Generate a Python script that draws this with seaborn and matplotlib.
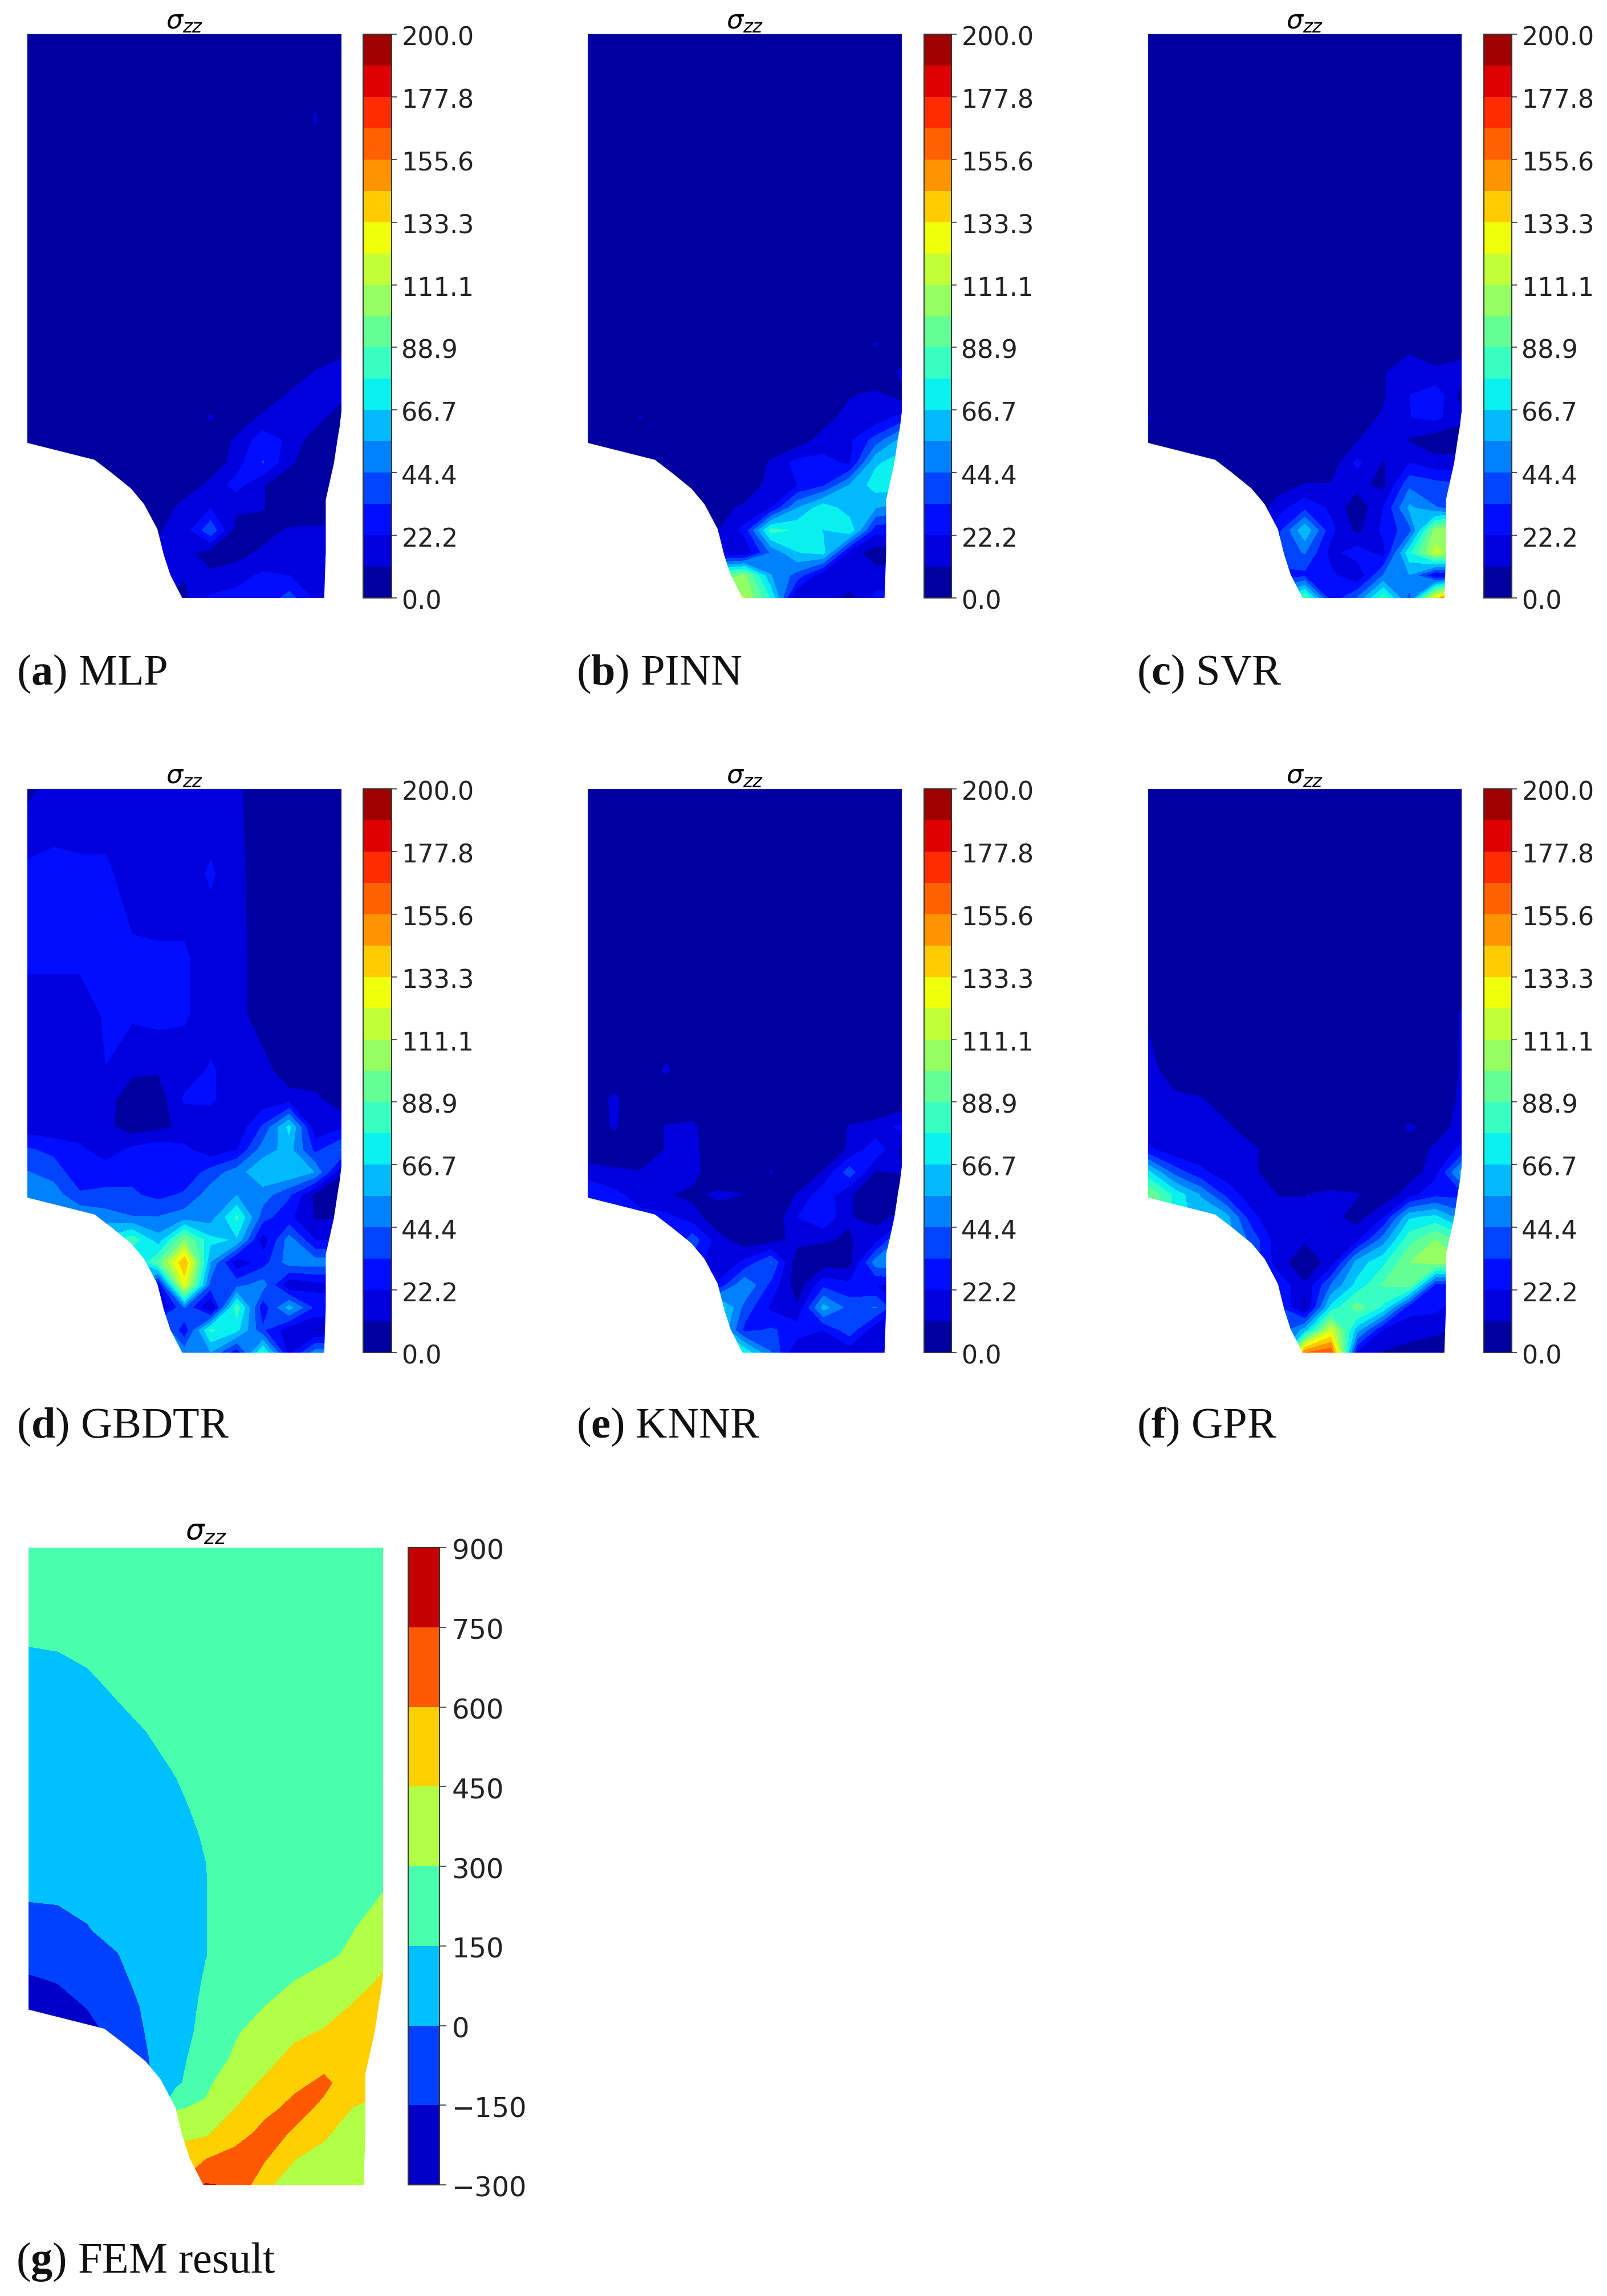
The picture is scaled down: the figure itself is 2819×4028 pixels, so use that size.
import numpy as np
import seaborn as sns
import matplotlib.pyplot as plt
from matplotlib.patches import Polygon
from matplotlib.transforms import ScaledTranslation

# grid rows run top to bottom, fractions of the specimen height
row_heights = [1, .85, .7, .6, .5, .45, .40, .36, .32, .28, .24, .20, .16, .12, .08, .04, 0]
fem_row_heights = [1, .85, .78, .7, .65, .6, .55, .5, .45, .40, .36, .32, .28, .24, .20, .16, .12, .08, .04, 0]

# specimen outline, fractions of width and height
shape_x = [0, 1, 1, .994, .989, .976, .95, .95, .945, .493, .455, .434, .414, .372, .33, .268, .214, 0]
shape_y = [1, 1, .331, .303, .287, .239, .174, .081, 0, 0, .041, .077, .122, .166, .194, .222, .245, .275]

pred_ticks = [0.0, 22.2, 44.4, 66.7, 88.9, 111.1, 133.3, 155.6, 177.8, 200.0]
fem_ticks = [-300, -150, 0, 150, 300, 450, 600, 750, 900]

mlp = [
    [0] * 13,
    [0, 0, 0, 0, 0, 0, 0, 0, 0, 0, 0, 12, 0],
    [0] * 13,
    [0] * 13,
    [0] * 13,
    [0] * 13,
    [0, 0, 0, 0, 0, 0, 0, 0, 0, 0, 0, 12, 22],
    [0, 0, 0, 0, 0, 0, 0, 0, 0, 0, 13, 18, 16],
    [0, 0, 0, 0, 0, 0, 0, 13, 0, 14, 16, 18, 0],
    [0, 0, 0, 0, 0, 0, 0, 0, 14, 28, 20, 4, 0],
    [0, 0, 0, 0, 0, 0, 0, 0, 18, 34, 14, 0, 0],
    [0, 0, 0, 0, 0, 0, 0, 16, 26, 12, 0, 0, 0],
    [0, 0, 0, 0, 0, 0, 18, 22, 14, 12, 0, 0, 0],
    [0, 0, 0, 0, 0, 10, 16, 42, 5, 5, 13, 14, 14],
    [0, 0, 0, 0, 0, 14, 14, 6, 6, 14, 14, 15, 15],
    [0, 0, 0, 0, 0, 14, 12, 13, 18, 24, 22, 18, 18],
    [0, 0, 0, 0, 0, 12, 8, 24, 26, 24, 38, 20, 20],
]

pinn = [
    [0] * 13,
    [0] * 13,
    [0] * 13,
    [0] * 13,
    [0] * 13,
    [0, 0, 0, 0, 0, 0, 0, 0, 0, 0, 6, 12, 0],
    [0, 0, 0, 0, 0, 0, 0, 0, 0, 0, 0, 0, 14],
    [0, 0, 0, 0, 0, 0, 0, 0, 0, 0, 10, 14, 6],
    [0, 0, 12, 0, 0, 0, 0, 0, 0, 6, 16, 15, 26],
    [0, 0, 0, 0, 0, 0, 0, 0, 4, 16, 20, 38, 60],
    [0, 0, 0, 0, 0, 0, 0, 13, 26, 26, 20, 65, 72],
    [0, 0, 0, 0, 0, 0, 4, 15, 22, 32, 56, 72, 72],
    [0, 0, 0, 0, 0, 8, 13, 22, 55, 74, 60, 56, 50],
    [0, 0, 0, 0, 0, 11, 26, 82, 76, 66, 76, 26, 26],
    [0, 0, 0, 0, 0, 12, 13, 46, 66, 70, 16, 5, 6],
    [0, 0, 0, 0, 90, 92, 102, 56, 40, 13, 22, 16, 16],
    [0, 0, 0, 0, 110, 110, 112, 76, 8, 20, 6, 25, 25],
]

svr = [
    [0] * 13,
    [0] * 13,
    [0] * 13,
    [0] * 13,
    [0] * 13,
    [0, 0, 0, 0, 0, 0, 0, 0, 0, 0, 6, 8, 0],
    [0, 0, 0, 0, 0, 0, 0, 0, 0, 10, 20, 12, 20],
    [0, 0, 0, 0, 0, 0, 0, 0, 5, 10, 22, 30, 6],
    [13, 0, 0, 0, 0, 0, 0, 0, 8, 12, 22, 25, 14],
    [0, 0, 0, 0, 0, 0, 0, 0, 10, 22, 10, 4, 4],
    [0, 0, 0, 0, 0, 0, 0, 4, 25, 10, 22, 15, 15],
    [0, 0, 0, 0, 0, 5, 12, 12, 14, 8, 42, 38, 35],
    [0, 0, 0, 0, 0, 18, 30, 20, 3, 22, 58, 45, 40],
    [0, 0, 0, 0, 0, 30, 65, 25, 8, 25, 40, 105, 115],
    [0, 0, 0, 0, 0, 40, 45, 18, 28, 18, 75, 115, 100],
    [0, 0, 0, 0, 0, 30, 30, 25, 12, 45, 55, 20, 25],
    [0, 0, 0, 0, 0, 60, 90, 25, 45, 85, 40, 130, 200],
]

gbdtr = [
    [8, 16, 13, 13, 13, 14, 13, 13, 13, 5, 3, 3, 3],
    [25, 25, 25, 25, 15, 15, 15, 24, 14, 5, 3, 3, 3],
    [25, 25, 25, 25, 25, 24, 24, 15, 15, 5, 3, 3, 3],
    [15, 15, 15, 24, 24, 26, 24, 15, 15, 5, 3, 3, 3],
    [14, 15, 15, 22, 13, 12, 15, 24, 15, 15, 5, 3, 3],
    [15, 15, 15, 15, 5, 5, 24, 24, 15, 15, 15, 14, 3],
    [16, 15, 14, 14, 5, 8, 14, 15, 14, 35, 70, 14, 20],
    [35, 30, 25, 15, 25, 30, 25, 15, 22, 50, 60, 30, 45],
    [45, 40, 25, 30, 30, 22, 25, 38, 50, 65, 65, 55, 12],
    [55, 50, 35, 35, 35, 30, 35, 50, 55, 50, 35, 8, 5],
    [60, 60, 55, 50, 45, 45, 50, 50, 80, 38, 25, 10, 10],
    [60, 60, 60, 70, 85, 60, 100, 70, 65, 15, 50, 22, 22],
    [60, 60, 60, 60, 60, 90, 145, 55, 14, 28, 50, 50, 50],
    [60, 60, 60, 60, 60, 20, 125, 40, 40, 50, 12, 18, 18],
    [60, 60, 60, 60, 60, 5, 45, 8, 85, 25, 60, 30, 30],
    [60, 60, 60, 60, 60, 60, 25, 80, 70, 35, 15, 10, 10],
    [60, 60, 60, 60, 60, 60, 50, 55, 25, 80, 18, 50, 50],
]

knnr = [
    [0] * 13,
    [0] * 13,
    [0] * 13,
    [0] * 13,
    [0, 0, 0, 13, 0, 0, 0, 0, 0, 0, 0, 0, 0],
    [0, 14, 0, 0, 0, 0, 0, 0, 0, 0, 0, 0, 0],
    [0, 13, 0, 12, 14, 0, 0, 0, 0, 0, 12, 15, 25],
    [0, 0, 0, 12, 15, 0, 0, 0, 0, 0, 13, 30, 8],
    [18, 14, 12, 12, 16, 0, 0, 12, 0, 12, 40, 10, 12],
    [30, 25, 18, 12, 8, 14, 11, 0, 12, 30, 12, 4, 4],
    [30, 25, 25, 25, 16, 3, 0, 0, 22, 32, 12, 6, 15],
    [30, 25, 25, 15, 40, 15, 4, 6, 15, 12, 10, 18, 50],
    [30, 25, 25, 15, 30, 12, 25, 45, 3, 5, 6, 50, 55],
    [30, 25, 25, 15, 30, 25, 55, 30, 4, 30, 25, 22, 22],
    [30, 25, 25, 15, 30, 75, 40, 20, 12, 60, 40, 45, 22],
    [30, 25, 25, 15, 30, 70, 30, 35, 28, 22, 40, 14, 12],
    [30, 25, 25, 15, 30, 70, 75, 45, 12, 22, 15, 22, 12],
]

gpr = [
    [0] * 13,
    [0] * 13,
    [0] * 13,
    [9, 0, 0, 0, 0, 0, 0, 0, 0, 0, 0, 2, 12],
    [16, 4, 0, 0, 0, 0, 0, 0, 0, 0, 0, 5, 12],
    [14, 14, 12, 5, 0, 0, 0, 0, 0, 0, 0, 4, 13],
    [15, 15, 14, 13, 5, 0, 0, 0, 0, 0, 13, 6, 15],
    [25, 15, 15, 14, 13, 5, 0, 0, 0, 0, 5, 13, 25],
    [70, 40, 25, 16, 13, 4, 0, 4, 0, 0, 4, 18, 60],
    [100, 75, 55, 30, 15, 11, 11, 13, 12, 2, 18, 30, 30],
    [100, 75, 60, 60, 25, 13, 12, 15, 6, 22, 65, 70, 50],
    [100, 75, 60, 60, 40, 14, 12, 16, 20, 50, 85, 100, 85],
    [100, 75, 60, 60, 40, 15, 4, 15, 60, 75, 100, 105, 100],
    [100, 75, 60, 60, 40, 30, 12, 45, 70, 90, 95, 30, 30],
    [100, 75, 60, 60, 40, 35, 8, 70, 95, 75, 25, 25, 15],
    [100, 75, 60, 60, 40, 35, 60, 120, 60, 20, 18, 14, 8],
    [100, 75, 60, 60, 40, 35, 155, 165, 20, 10, 5, 3, 3],
]

fem = [
    [220] * 13,
    [152, 155, 165, 185, 205, 225, 225, 225, 225, 225, 225, 225, 225],
    [125, 128, 138, 157, 175, 203, 225, 225, 225, 225, 225, 225, 225],
    [110, 110, 110, 128, 146, 173, 205, 230, 235, 235, 225, 225, 225],
    [95, 95, 95, 115, 125, 154, 190, 222, 228, 228, 225, 225, 228],
    [80, 80, 80, 85, 105, 135, 175, 215, 225, 225, 225, 225, 235],
    [55, 55, 60, 70, 85, 115, 160, 210, 225, 230, 232, 235, 255],
    [30, 30, 40, 50, 75, 100, 148, 205, 230, 240, 240, 245, 280],
    [5, 8, 20, 45, 70, 85, 147, 205, 235, 245, 255, 270, 305],
    [-40, -30, -5, 30, 65, 75, 147, 210, 240, 255, 270, 298, 360],
    [-110, -95, -60, -5, 60, 65, 146, 215, 255, 265, 280, 318, 410],
    [-165, -145, -110, -35, 45, 60, 165, 230, 270, 300, 335, 390, 470],
    [-200, -190, -145, -90, 27, 75, 180, 250, 300, 360, 390, 460, 520],
    [-215, -210, -190, -110, 8, 90, 190, 285, 360, 420, 460, 520, 530],
    [-220, -215, -210, -160, -10, 110, 215, 320, 400, 490, 570, 590, 520],
    [-220, -220, -220, -165, -20, 120, 270, 390, 470, 580, 615, 560, 480],
    [-220, -220, -220, -170, -20, 290, 320, 450, 575, 625, 585, 440, 420],
    [-220, -220, -220, -170, -20, 420, 430, 560, 630, 590, 470, 380, 370],
    [-220, -220, -220, -170, -20, 500, 600, 640, 610, 452, 400, 350, 350],
    [-220, -220, -220, -170, -20, 600, 760, 730, 480, 380, 360, 340, 340],
]

# values, caption, (left, right, top, bottom), colourbar (left, right), caption (x, y)
panels = [
    (mlp, r'($\mathbf{a}$) MLP', (48, 599, 60, 1049), (637, 687), (29, 1182)),
    (pinn, r'($\mathbf{b}$) PINN', (1031, 1582, 60, 1049), (1621, 1669), (1011, 1182)),
    (svr, r'($\mathbf{c}$) SVR', (2014, 2564, 60, 1049), (2603, 2652), (1994, 1182)),
    (gbdtr, r'($\mathbf{d}$) GBDTR', (48, 599, 1384, 2373), (637, 687), (29, 2503)),
    (knnr, r'($\mathbf{e}$) KNNR', (1031, 1582, 1384, 2373), (1621, 1669), (1011, 2503)),
    (gpr, r'($\mathbf{f}$) GPR', (2014, 2564, 1384, 2373), (2603, 2652), (1994, 2503)),
    (fem, r'($\mathbf{g}$) FEM result', (50, 672, 2715, 3833), (716, 771), (28, 3968)),
]

W, H = 2819, 4028

sns.set_theme(style='white')
plt.rcParams['font.family'] = ['DejaVu Sans']
plt.rcParams['mathtext.fontset'] = 'dejavusans'
plt.rcParams['mathtext.bf'] = 'Liberation Serif:bold'
# seaborn refuses to build a jet palette, so take it from matplotlib
jet = plt.get_cmap('jet')

fig = plt.figure(figsize=(W / 100, H / 100), dpi=100)
fig.patch.set_facecolor('white')


def px_axes(left, right, top, bottom):
    return fig.add_axes([left / W, 1 - bottom / H, (right - left) / W, (bottom - top) / H])


for values, caption, box, bar, cap in panels:
    is_fem = values is fem
    ax = px_axes(*box)
    levels = np.linspace(-300, 900, 9) if is_fem else np.linspace(0, 200, 19)
    ticks = fem_ticks if is_fem else pred_ticks
    rows = fem_row_heights if is_fem else row_heights
    xs = np.linspace(0, 1, 13)
    cs = ax.contourf(xs, rows, np.array(values, dtype=float), levels=levels, cmap=jet)
    outline = Polygon(np.column_stack([shape_x, shape_y]), closed=True,
                      facecolor='none', edgecolor='none', transform=ax.transData)
    ax.add_patch(outline)
    cs.set_clip_path(outline)
    ax.set_xlim(0, 1)
    ax.set_ylim(0, 1)
    ax.axis('off')
    ax.set_title(r'$\sigma_{zz}$', fontsize=37 if is_fem else 33, pad=10 if is_fem else 7, color='black')

    cax = px_axes(bar[0], bar[1], box[2], box[3])
    cb = fig.colorbar(cs, cax=cax, ticks=ticks, format=None if is_fem else '%.1f')
    cb.outline.set_linewidth(1.4)
    cb.outline.set_edgecolor('#333333')
    cax.tick_params(axis='y', which='major', left=False, right=True, labelright=True,
                    labelsize=34.5 if is_fem else 32,
                    length=8.5 if is_fem else 6.5, width=1.2, pad=7 if is_fem else 6,
                    color='#333333', labelcolor='#222222')
    cax.minorticks_off()
    # labels sit a touch under their ticks in the original
    nudge = ScaledTranslation(0, -2.5 / 100, fig.dpi_scale_trans)
    for label in cax.get_yticklabels():
        label.set_transform(label.get_transform() + nudge)

    fig.text(cap[0] / W, 1 - cap[1] / H, caption, family='Liberation Serif', fontsize=55,
             math_fontfamily='custom', va='center', ha='left', color='#111111')

fig.savefig('out.png', dpi=100, facecolor='white')
